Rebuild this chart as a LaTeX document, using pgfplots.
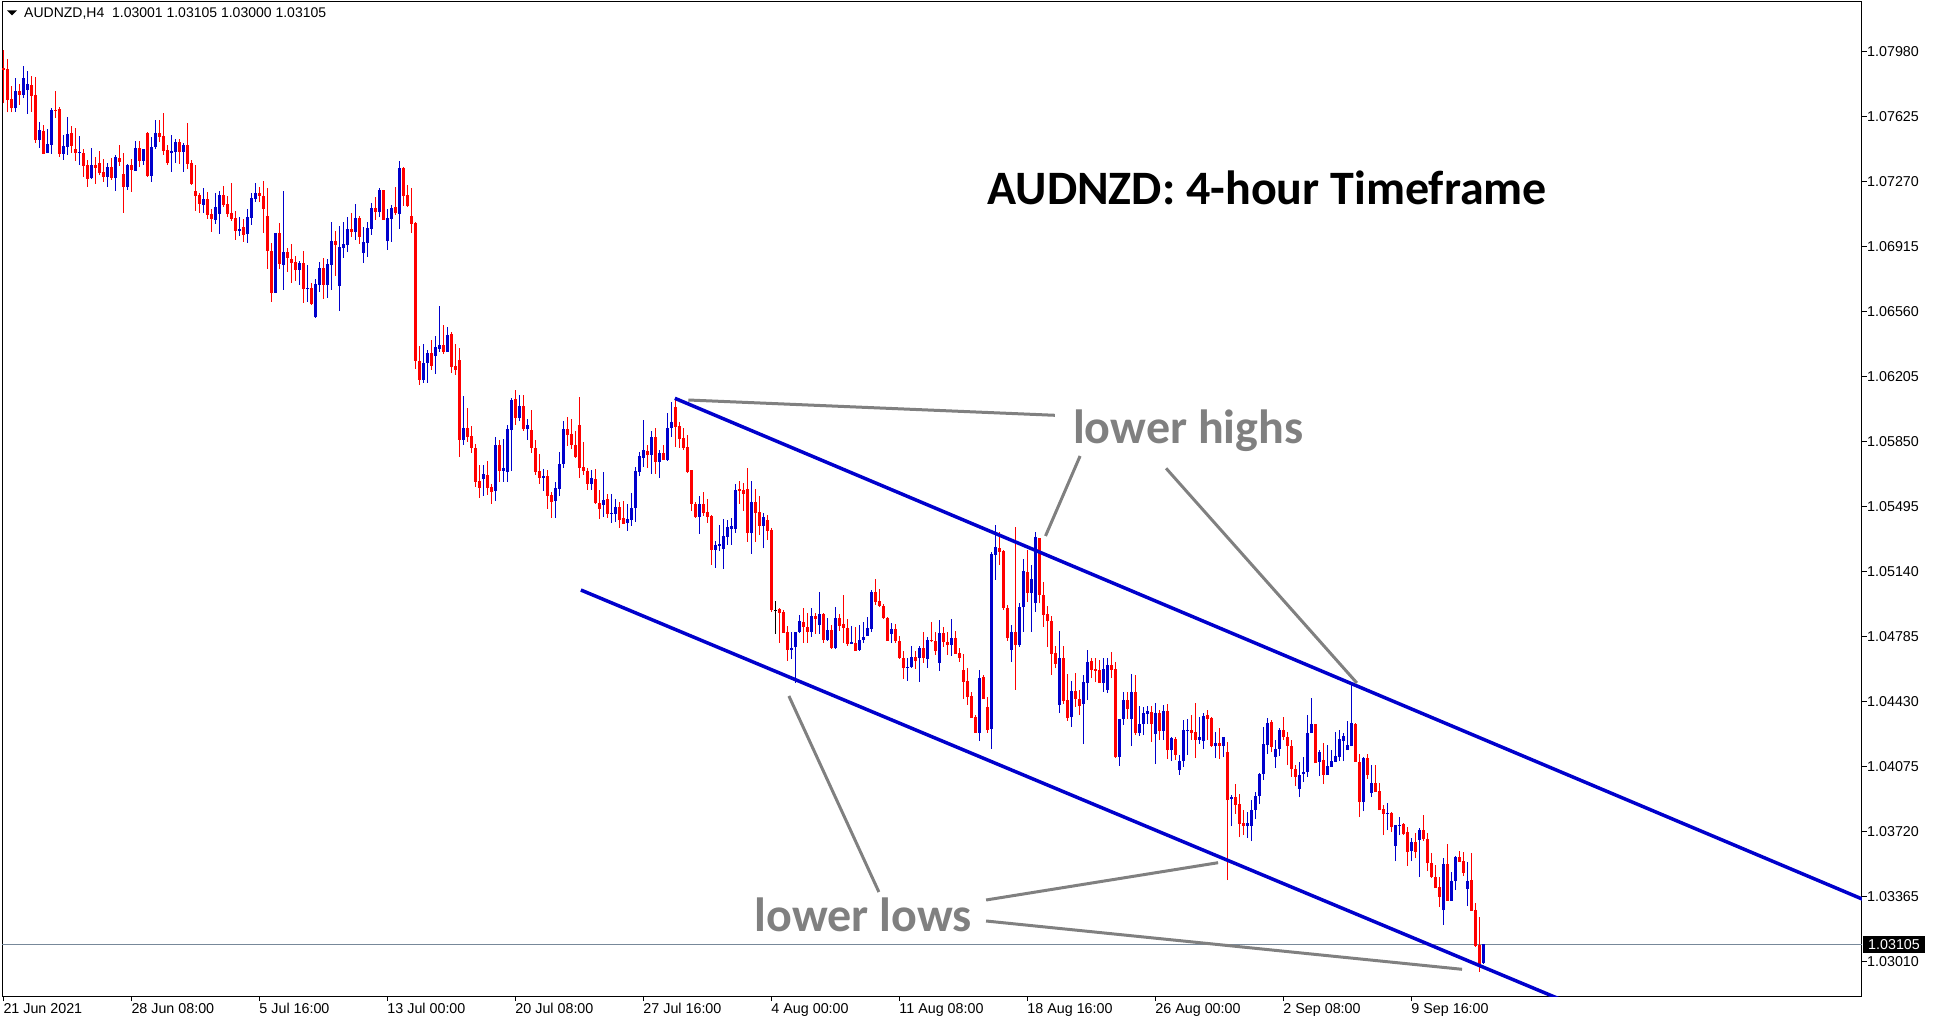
\documentclass[border=0pt]{standalone}
\usepackage{fontspec}
\setmainfont{Liberation Sans}
\newfontfamily\calib{Carlito}
\usepackage{pgfplots}
\pgfplotsset{compat=1.18}
\usepackage{pgfplotstable}

\definecolor{cblue}{RGB}{0,0,204}
\definecolor{cred}{RGB}{255,0,0}
\definecolor{annot}{RGB}{128,128,128}
\definecolor{pline}{RGB}{119,136,153}

% AUDNZD H4 candles: o h l c in units of 0.0001 above 1.0
\pgfplotstableread{
i o h l c
0 789.3 799.0 769.8 788.0
1 788.6 794.1 764.8 771.7
2 772.2 779.3 764.8 767.1
3 767.1 783.7 765.3 776.6
4 776.6 780.4 768.9 774.4
5 774.4 790.2 772.6 783.7
6 777.1 787.5 764.2 780.4
7 779.9 784.8 765.3 774.0
8 774.4 784.2 748.4 749.8
9 749.8 759.5 745.6 755.3
10 754.7 758.0 742.2 742.2
11 742.9 755.8 742.5 747.6
12 747.1 767.5 742.2 766.2
13 766.2 776.6 762.0 765.8
14 766.8 767.8 740.7 742.2
15 742.2 752.6 738.9 746.6
16 746.2 762.4 741.6 753.1
17 753.7 757.5 742.9 746.6
18 744.9 756.4 738.4 742.9
19 742.9 752.0 736.2 743.3
20 742.7 744.9 729.6 735.8
21 736.2 738.9 724.2 728.7
22 728.9 745.5 728.5 736.2
23 736.2 740.5 725.8 734.5
24 737.3 743.8 730.4 731.8
25 732.4 739.5 727.1 729.6
26 729.6 737.3 724.2 735.1
27 735.1 740.0 728.0 729.1
28 729.1 741.6 722.0 740.5
29 740.0 747.1 735.6 737.8
30 731.3 742.7 710.0 724.2
31 724.2 736.7 722.5 736.2
32 736.2 739.5 721.4 733.4
33 732.9 749.3 732.9 745.5
34 745.5 749.3 735.1 738.4
35 738.4 744.9 736.2 744.9
36 753.7 754.2 729.6 730.2
37 730.2 751.5 726.9 746.0
38 746.0 760.7 744.9 753.7
39 753.7 760.7 748.7 751.5
40 752.0 764.6 741.6 743.8
41 744.4 747.1 736.2 737.3
42 742.7 752.6 732.4 743.8
43 743.3 750.4 737.3 748.7
44 748.7 750.4 736.7 743.3
45 743.3 748.2 732.4 747.1
46 747.1 759.1 734.0 736.7
47 737.3 738.9 725.3 725.8
48 722.0 736.2 711.1 719.3
49 719.8 720.9 710.0 714.9
50 714.3 723.6 710.0 717.6
51 717.6 721.4 706.7 708.9
52 709.4 712.2 699.6 706.7
53 706.1 720.9 704.0 713.2
54 709.4 722.0 698.5 719.8
55 719.8 724.7 713.2 714.3
56 714.9 719.3 707.8 709.4
57 710.0 726.4 705.6 706.7
58 707.2 711.1 695.2 700.1
59 700.1 707.8 697.4 701.2
60 702.3 706.7 694.1 698.0
61 698.5 712.2 693.6 707.8
62 707.2 720.9 703.4 718.2
63 717.6 726.4 716.0 720.9
64 720.9 724.1 716.1 719.2
65 719.2 727.4 699.0 712.1
66 708.3 723.6 679.4 689.2
67 689.2 693.6 661.3 666.3
68 666.3 699.0 666.3 699.0
69 699.0 704.5 679.4 682.1
70 681.5 721.9 667.9 688.6
71 688.6 690.8 677.7 685.4
72 684.8 693.0 671.7 682.6
73 683.2 686.5 672.8 678.8
74 678.8 683.7 670.6 682.6
75 682.6 689.2 660.8 668.4
76 668.8 681.5 661.3 669.0
77 669.0 671.7 659.7 660.2
78 653.1 673.9 652.6 671.2
79 670.6 683.2 666.8 679.9
80 679.9 685.4 663.0 670.6
81 670.6 684.8 663.5 682.1
82 681.5 705.0 667.9 694.6
83 694.6 700.1 675.5 692.5
84 670.1 702.8 656.4 691.4
85 690.8 705.0 685.4 693.0
86 692.5 707.7 688.6 701.2
87 701.2 709.9 696.8 699.6
88 699.6 714.8 695.2 707.2
89 707.2 708.3 693.0 696.8
90 688.1 702.3 682.6 694.1
91 693.6 705.0 685.9 701.7
92 701.2 715.4 697.9 712.7
93 712.7 718.7 706.1 710.5
94 710.5 723.6 707.7 722.5
95 722.5 722.5 706.1 706.1
96 694.6 712.1 689.7 707.2
97 706.7 714.3 694.1 712.7
98 713.2 724.1 708.8 709.9
99 709.4 738.3 701.2 734.5
100 734.5 735.0 713.8 719.2
101 719.8 725.2 713.2 713.8
102 708.3 723.6 699.0 703.9
103 704.5 705.0 624.8 629.1
104 629.1 637.3 616.0 618.7
105 618.7 638.4 617.1 628.0
106 628.0 635.1 617.1 633.5
107 633.5 640.6 624.2 626.4
108 631.9 642.8 622.0 636.8
109 635.7 659.2 634.0 637.9
110 637.9 648.8 632.9 634.0
111 634.0 647.7 634.0 643.3
112 643.9 644.9 622.6 625.8
113 626.4 638.4 621.5 624.2
114 629.7 636.2 576.7 586.0
115 586.0 610.0 583.3 592.5
116 592.5 603.5 584.9 587.6
117 588.2 593.6 578.9 581.6
118 581.6 583.8 560.3 563.1
119 563.6 572.3 554.3 559.8
120 564.7 572.3 555.4 567.4
121 566.9 574.5 555.9 559.8
122 560.3 562.0 551.0 557.6
123 558.1 587.6 552.7 583.3
124 583.3 586.0 563.1 569.1
125 569.1 586.5 563.1 570.7
126 568.7 594.2 563.2 592.0
127 591.4 608.7 569.0 607.8
128 608.4 613.3 594.2 598.0
129 598.0 610.5 596.3 604.5
130 604.5 610.5 590.9 592.0
131 592.0 597.4 586.0 594.2
132 591.4 602.3 578.9 581.6
133 581.6 586.0 566.9 568.5
134 569.0 578.3 561.9 565.2
135 565.2 570.1 558.1 566.3
136 566.3 569.6 548.3 555.4
137 555.9 557.6 543.4 552.1
138 552.7 563.0 543.4 559.8
139 559.2 579.4 555.4 572.9
140 572.9 596.3 570.7 592.0
141 592.0 598.5 582.7 588.7
142 589.2 597.4 581.1 583.2
143 583.2 590.9 576.1 576.7
144 594.2 609.4 565.2 570.7
145 571.2 584.9 566.9 569.0
146 569.0 570.7 558.7 561.9
147 561.9 569.6 558.7 565.2
148 564.7 570.1 551.0 551.6
149 551.6 558.7 542.8 548.3
150 550.5 568.5 543.9 553.2
151 553.8 556.5 543.4 545.6
152 545.7 556.5 540.7 546.1
153 545.6 553.8 541.2 549.4
154 549.4 552.1 537.9 542.3
155 543.4 552.7 540.1 540.1
156 540.7 551.0 536.3 542.8
157 542.3 557.0 539.0 548.8
158 548.8 571.2 541.2 569.0
159 568.5 579.4 566.3 577.2
160 576.1 596.9 571.2 580.5
161 580.0 583.2 570.7 577.8
162 577.8 590.9 567.4 587.6
163 587.6 592.5 567.4 574.0
164 574.0 580.5 565.2 578.9
165 578.9 583.2 575.0 575.0
166 575.0 600.7 574.5 592.5
167 592.5 606.7 587.6 595.8
168 604.0 608.9 582.1 593.1
169 593.6 595.8 581.6 586.5
170 587.1 592.5 580.5 581.6
171 582.1 588.7 567.9 568.5
172 569.6 569.6 547.2 551.0
173 551.0 552.1 543.4 543.9
174 543.9 555.4 534.6 551.0
175 551.0 557.6 544.5 546.1
176 546.7 553.8 540.7 543.9
177 544.5 545.0 517.7 525.9
178 525.9 530.8 516.1 528.6
179 528.1 539.6 525.4 529.2
180 526.5 542.8 515.5 533.6
181 533.0 542.3 528.6 538.5
182 537.4 543.4 528.6 539.0
183 537.4 561.9 535.2 558.7
184 559.2 563.6 551.0 558.1
185 558.7 562.5 547.2 556.5
186 559.2 570.7 530.3 535.2
187 535.2 563.6 523.7 552.1
188 552.1 559.2 530.3 546.1
189 546.7 555.4 534.1 539.0
190 539.0 546.0 526.8 544.1
191 542.3 545.0 531.4 536.3
192 536.8 537.7 492.2 493.1
193 493.1 498.0 480.0 493.1
194 493.7 494.0 475.1 491.6
195 492.0 493.1 480.6 480.6
196 481.1 484.4 465.3 471.3
197 471.3 481.1 466.4 472.4
198 472.9 481.1 453.3 481.1
199 481.1 490.4 480.6 487.1
200 486.6 494.2 475.1 483.8
201 483.8 491.5 475.1 481.1
202 481.1 494.2 478.4 489.9
203 489.9 491.5 480.0 488.2
204 484.9 503.0 480.0 491.0
205 491.0 491.5 475.1 476.8
206 476.8 488.8 476.2 482.2
207 482.2 484.9 471.8 472.4
208 472.4 494.8 471.8 488.8
209 488.8 490.9 481.7 484.4
210 485.5 501.3 475.1 483.3
211 483.3 488.2 473.5 474.6
212 474.7 484.4 474.6 475.5
213 475.1 483.8 470.7 470.7
214 471.3 484.9 470.7 476.8
215 476.8 486.6 475.1 478.4
216 478.9 489.3 478.9 483.3
217 482.8 504.0 481.1 503.0
218 503.0 510.1 495.9 497.5
219 498.0 504.6 494.8 495.3
220 495.3 496.4 488.2 488.8
221 488.8 489.3 476.2 476.2
222 480.0 486.0 475.1 482.8
223 482.8 485.5 475.1 476.2
224 476.2 478.9 466.4 466.9
225 466.9 470.7 455.5 461.5
226 461.5 466.9 454.4 462.0
227 462.0 473.5 461.5 467.5
228 467.5 470.7 460.9 465.3
229 466.9 473.5 453.8 472.4
230 472.4 481.1 464.2 466.9
231 466.4 478.4 461.5 476.8
232 476.8 486.6 475.7 475.9
233 476.2 481.1 468.6 470.7
234 464.2 487.7 459.8 480.6
235 480.6 483.8 472.9 475.7
236 475.7 481.1 468.6 474.0
237 474.0 488.2 468.0 477.8
238 477.8 481.7 469.1 469.1
239 469.7 472.4 464.7 466.9
240 460.4 469.1 444.5 453.8
241 454.4 461.5 441.3 445.6
242 446.2 448.4 434.2 434.2
243 434.7 435.8 426.0 426.0
244 426.0 460.4 421.6 456.0
245 456.5 457.6 444.5 444.5
246 440.2 445.6 426.0 427.6
247 428.2 525.0 417.2 523.7
248 523.2 539.5 509.5 527.5
249 526.8 535.9 517.7 525.0
250 525.3 525.9 493.1 494.2
251 494.2 495.9 476.2 477.8
252 471.3 484.9 464.7 481.1
253 481.2 538.6 449.4 473.9
254 473.9 496.7 473.0 494.5
255 494.5 520.7 481.2 514.4
256 513.8 525.8 497.6 502.5
257 502.5 517.6 481.2 510.0
258 497.1 535.7 492.2 532.7
259 532.4 532.4 496.7 501.2
260 501.2 508.3 484.0 490.3
261 490.9 495.2 473.0 487.2
262 487.2 489.8 457.6 469.0
263 469.6 473.4 461.4 463.6
264 441.2 481.6 436.8 466.9
265 466.9 473.4 441.7 443.4
266 443.9 458.1 432.5 434.3
267 434.6 454.3 429.2 448.8
268 448.8 458.7 440.3 444.5
269 444.5 449.4 435.7 440.6
270 441.7 457.6 419.9 453.7
271 453.2 471.2 443.9 464.7
272 465.2 466.9 455.9 460.3
273 460.8 466.9 453.7 459.8
274 460.3 465.8 453.2 453.2
275 453.2 466.9 448.3 460.8
276 449.4 466.9 447.7 463.0
277 463.0 470.1 455.9 460.3
278 460.8 464.7 412.2 412.8
279 412.8 433.5 407.9 433.5
280 433.5 448.3 430.3 443.9
281 443.9 448.3 433.5 439.0
282 433.5 458.1 418.8 448.3
283 448.3 457.6 424.8 425.9
284 425.9 440.6 424.3 430.8
285 430.8 440.1 424.8 436.8
286 436.3 440.6 430.8 437.9
287 437.4 440.6 421.0 430.8
288 425.4 442.3 409.0 436.8
289 436.8 438.5 422.1 427.0
290 427.0 441.2 422.1 437.9
291 437.9 441.7 411.7 416.6
292 416.6 423.7 410.6 423.2
293 422.6 423.7 411.2 413.9
294 405.7 413.9 403.0 410.6
295 410.6 433.0 407.3 427.5
296 427.0 433.5 413.9 427.5
297 427.5 435.7 422.1 425.9
298 426.4 442.3 412.2 422.1
299 422.1 434.6 419.9 423.7
300 421.5 436.8 417.2 435.2
301 435.7 438.5 422.1 433.5
302 434.1 434.6 418.3 418.8
303 418.8 426.4 412.2 420.4
304 420.4 428.6 411.7 418.8
305 418.8 423.7 412.8 423.7
306 415.5 421.0 345.6 389.3
307 390.0 392.0 375.1 390.9
308 390.9 398.1 381.7 386.6
309 387.1 392.6 369.1 376.2
310 376.8 383.9 370.2 375.1
311 375.1 382.8 368.6 376.8
312 375.1 389.3 366.9 383.9
313 383.9 393.7 378.9 391.5
314 391.5 404.1 387.1 403.5
315 403.5 429.2 400.2 419.9
316 419.3 434.1 414.4 431.4
317 431.9 433.0 415.5 418.2
318 412.8 422.1 406.8 417.2
319 417.2 428.6 413.3 427.5
320 427.5 434.6 422.1 423.7
321 423.7 426.4 408.4 418.8
322 418.8 422.1 401.9 406.2
323 406.2 408.4 396.9 401.9
324 395.3 410.1 390.9 403.0
325 403.5 412.8 399.1 404.6
326 404.6 435.7 401.9 425.9
327 425.9 444.8 425.9 430.8
328 430.8 430.8 409.5 409.5
329 410.1 416.6 402.4 415.5
330 411.1 420.4 398.0 403.0
331 403.0 419.3 403.0 407.9
332 407.3 416.6 407.3 410.6
333 410.1 426.4 410.1 413.3
334 412.8 427.5 410.6 422.6
335 421.5 425.9 410.6 424.2
336 416.6 432.4 416.6 419.3
337 418.8 453.2 418.8 431.3
338 430.8 431.3 410.1 410.1
339 410.1 414.4 380.0 388.2
340 388.2 412.8 383.3 412.2
341 412.2 414.4 400.8 403.0
342 393.1 408.4 390.9 398.6
343 398.6 408.4 393.7 393.7
344 394.2 398.6 383.8 383.8
345 384.4 386.6 370.2 381.7
346 381.7 387.7 372.9 382.2
347 382.2 382.7 371.8 374.6
348 364.2 375.6 356.0 375.6
349 375.1 380.0 370.2 375.6
350 376.2 376.7 370.2 370.7
351 371.8 374.6 353.3 360.9
352 361.5 368.6 356.0 366.4
353 366.4 371.3 357.6 360.9
354 367.5 374.0 347.3 372.9
355 372.9 381.1 366.9 368.0
356 368.0 371.3 350.5 354.9
357 354.9 360.4 346.7 347.3
358 347.3 353.8 341.2 341.2
359 341.8 347.3 330.9 336.3
360 329.2 357.6 321.1 354.3
361 354.3 365.3 334.2 334.2
362 334.2 350.0 334.2 345.1
363 345.1 358.7 340.1 358.2
364 358.2 361.4 355.4 355.4
365 356.0 360.9 347.8 349.4
366 340.7 355.4 331.4 345.1
367 345.6 360.4 328.7 328.7
368 329.2 333.1 309.0 309.6
369 310.1 325.4 295.4 299.8
370 300.1 310.5 300.0 310.5
}\candles

\pgfplotsset{
  wick/.style={draw=none, mark=none, forget plot, error bars/.cd, y dir=plus, y explicit, error mark=none, error bar style={draw=#1, line width=1.1pt}},
  body/.style={draw=none, mark=none, forget plot, error bars/.cd, y dir=plus, y explicit, error mark=none, error bar style={draw=#1, line width=3.2pt}},
}

\begin{document}
\begin{tikzpicture}[x=1pt,y=1pt]
\useasboundingbox (-2,-27) rectangle (1931,996);
\begin{axis}[
  at={(0,0)}, anchor=south west,
  scale only axis, width=1860pt, height=994pt,
  xmin=-0.325, xmax=464.675,
  ymin=1.0282271, ymax=1.0825144,
  axis line style={line width=1pt},
  tick style={line width=1pt, black},
  major tick length=5pt,
  tick align=outside,
  xtick pos=left, ytick pos=right,
  yticklabel pos=right,
  xtick={0,32,64,96,128,160,192,224,256,288,320,352},
  xticklabels={21 Jun 2021,28 Jun 08:00,5 Jul 16:00,13 Jul 00:00,20 Jul 08:00,27 Jul 16:00,4 Aug 00:00,11 Aug 08:00,18 Aug 16:00,26 Aug 00:00,2 Sep 08:00,9 Sep 16:00},
  ytick={1.03010,1.03365,1.03720,1.04075,1.04430,1.04785,1.05140,1.05495,1.05850,1.06205,1.06560,1.06915,1.07270,1.07625,1.07980},
  yticklabels={1.03010,1.03365,1.03720,1.04075,1.04430,1.04785,1.05140,1.05495,1.05850,1.06205,1.06560,1.06915,1.07270,1.07625,1.07980},
  tick label style={font=\fontsize{14.3}{17}\selectfont, inner sep=0pt},
  xticklabel style={anchor=base west, yshift=-12pt},
  yticklabel style={anchor=west},
]
% current price line
\addplot[pline, line width=1pt, forget plot] coordinates {(-1,1.03105) (470,1.03105)};

% candles: wicks and bodies
\addplot[wick=cblue] table[x=i, y expr={\thisrow{c}>\thisrow{o} ? 1+\thisrow{l}/10000 : nan}, y error expr={(\thisrow{h}-\thisrow{l})/10000}] {\candles};
\addplot[body=cblue] table[x=i, y expr={\thisrow{c}>\thisrow{o} ? 1+\thisrow{o}/10000 : nan}, y error expr={max(\thisrow{c}-\thisrow{o},0.3)/10000}] {\candles};
\addplot[wick=cred] table[x=i, y expr={\thisrow{c}<\thisrow{o} ? 1+\thisrow{l}/10000 : nan}, y error expr={(\thisrow{h}-\thisrow{l})/10000}] {\candles};
\addplot[body=cred] table[x=i, y expr={\thisrow{c}<\thisrow{o} ? 1+\thisrow{c}/10000 : nan}, y error expr={max(\thisrow{o}-\thisrow{c},0.3)/10000}] {\candles};
\addplot[wick=black] table[x=i, y expr={\thisrow{c}==\thisrow{o} ? 1+\thisrow{l}/10000 : nan}, y error expr={(\thisrow{h}-\thisrow{l})/10000}] {\candles};
\addplot[body=black] table[x=i, y expr={\thisrow{c}==\thisrow{o} ? 1+(\thisrow{o}-0.15)/10000 : nan}, y error expr={0.3/10000}] {\candles};

% channel
\addplot[cblue, line width=3.5pt] coordinates {(167.9,1.06087) (470,1.033037)};
\addplot[cblue, line width=3.5pt] coordinates {(144.4,1.05040) (390,1.027976)};

% pointer lines
\addplot[annot, line width=3pt] coordinates {(171.25,1.060777) (262.9,1.059942)};
\addplot[annot, line width=3pt] coordinates {(269.2,1.057719) (260.55,1.05335)};
\addplot[annot, line width=3pt] coordinates {(290.7,1.057047) (338.4,1.045322)};
\addplot[annot, line width=3pt] coordinates {(196.4,1.044612) (218.9,1.033907)};
\addplot[annot, line width=3pt] coordinates {(245.7,1.03347) (303.7,1.035507)};
\addplot[annot, line width=3pt] coordinates {(245.7,1.032323) (364.7,1.029685)};

\node[anchor=base west, inner sep=0pt, font=\calib\fontsize{48}{58}\selectfont\bfseries] at (axis cs:246.0,1.07148) {AUDNZD: 4-hour Timeframe};
\node[anchor=base west, inner sep=0pt, text=annot, font=\calib\fontsize{48}{58}\selectfont\bfseries] at (axis cs:267.4,1.058429) {lower highs};
\node[anchor=base west, inner sep=0pt, text=annot, font=\calib\fontsize{48}{58}\selectfont\bfseries] at (axis cs:187.8,1.031723) {lower lows};

\coordinate (pricept) at (axis cs:464.675,1.03105);
\end{axis}

% price tag on the right scale
\fill[black] ([xshift=1pt,yshift=-8.5pt]pricept) rectangle ([xshift=63pt,yshift=8.5pt]pricept);
\node[anchor=west, inner sep=0pt, text=white, font=\fontsize{14.3}{17}\selectfont] at ([xshift=6pt]pricept) {1.03105};

% chart header
\fill[black] (5,985.5) -- (15,985.5) -- (10,980.5) -- cycle;
\node[anchor=base west, inner sep=0pt, font=\fontsize{14}{17}\selectfont] at (22,978) {AUDNZD,H4\ \ 1.03001 1.03105 1.03000 1.03105};
\end{tikzpicture}
\end{document}
